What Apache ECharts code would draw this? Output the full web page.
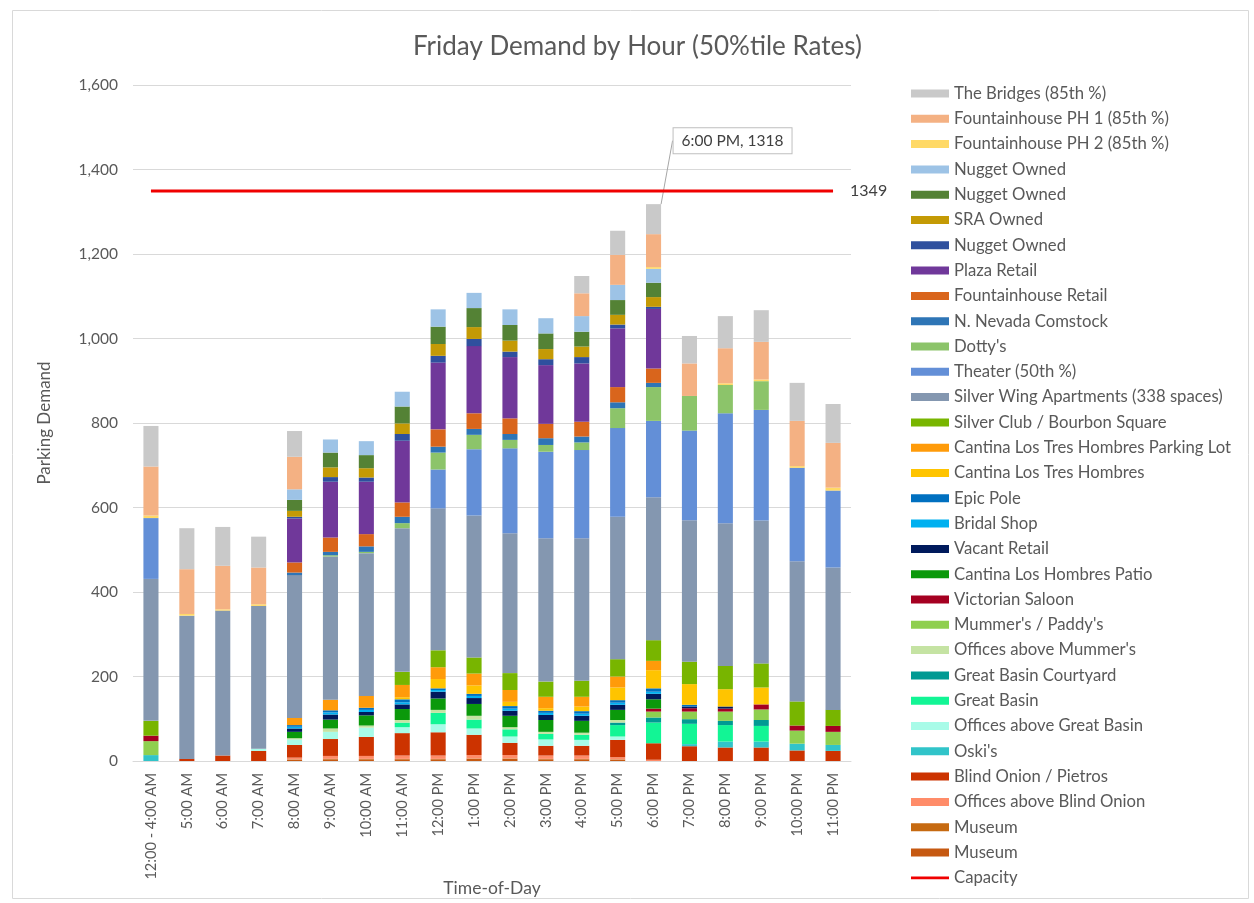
<!DOCTYPE html>
<html>
<head>
<meta charset="utf-8">
<title>Friday Demand by Hour</title>
<script src="https://cdn.jsdelivr.net/npm/echarts@6/dist/echarts.min.js"></script>
<style>
  html, body { margin: 0; padding: 0; background: #fff; }
  #chart { width: 1254px; height: 903px; }
</style>
</head>
<body>
<div id="chart"></div>
<script>
// time-of-day categories
const hours = ['12:00 - 4:00 AM', '5:00 AM', '6:00 AM', '7:00 AM', '8:00 AM', '9:00 AM', '10:00 AM',
  '11:00 AM', '12:00 PM', '1:00 PM', '2:00 PM', '3:00 PM', '4:00 PM', '5:00 PM', '6:00 PM',
  '7:00 PM', '8:00 PM', '9:00 PM', '10:00 PM', '11:00 PM']

// stack order, bottom to top
const museumA       = [0, 0, 0, 0, 3, 4, 4, 4, 4, 5, 5, 4, 4, 3, 0, 0, 0, 0, 0, 0]
const museumB       = [0, 0, 0, 0, 1, 1, 1, 1, 1, 1, 1, 1, 1, 1, 0, 0, 0, 0, 0, 0]
const offBlindOnion = [0, 0, 0, 0, 4, 7, 7, 8, 8, 8, 8, 8, 8, 5, 3, 0, 0, 0, 0, 0]
const blindOnion    = [0, 5, 13, 24, 30, 40, 45, 53, 55, 48, 29, 23, 23, 41, 39, 35, 32, 32, 25, 24]
const oskis         = [14, 0, 0, 0, 0, 0, 0, 0, 0, 0, 0, 0, 0, 0, 0, 5, 14, 14, 16, 14]
const offGreatBasin = [0, 0, 0, 5, 13, 17, 22, 14, 19, 15, 15, 15, 14, 8, 0, 0, 0, 0, 0, 0]
const greatBasin    = [0, 0, 0, 0, 0, 0, 0, 11, 27, 21, 17, 13, 12, 27, 49, 48, 39, 37, 0, 0]
const gbCourtyard   = [0, 0, 0, 0, 0, 0, 0, 0, 0, 0, 0, 0, 0, 6, 12, 11, 10, 14, 0, 0]
const offMummers    = [0, 0, 0, 0, 3, 8, 5, 6, 7, 9, 5, 5, 5, 6, 0, 0, 0, 0, 0, 0]
const mummers       = [33, 0, 0, 0, 0, 0, 0, 0, 0, 0, 0, 0, 0, 0, 14, 18, 22, 25, 31, 31]
const victorian     = [13, 0, 0, 0, 0, 0, 0, 0, 0, 0, 0, 0, 0, 0, 7, 8, 7, 12, 12, 14]
const patio         = [0, 0, 0, 0, 15, 21, 24, 26, 27, 28, 27, 28, 28, 24, 22, 0, 0, 0, 0, 0]
const vacant        = [0, 0, 0, 0, 8, 12, 8, 11, 16, 14, 12, 12, 12, 12, 13, 4, 5, 0, 0, 0]
const bridal        = [0, 0, 0, 0, 4, 5, 5, 5, 4, 5, 5, 5, 5, 5, 5, 0, 0, 0, 0, 0]
const epicPole      = [0, 0, 0, 0, 4, 5, 5, 7, 4, 5, 6, 5, 6, 6, 8, 4, 0, 0, 0, 0]
const cantinaLTH    = [0, 0, 0, 0, 0, 0, 0, 5, 22, 20, 10, 6, 11, 30, 43, 49, 41, 40, 0, 0]
const parkingLot    = [0, 0, 0, 0, 17, 25, 28, 29, 28, 28, 28, 27, 23, 26, 22, 0, 0, 0, 0, 0]
const silverClub    = [35, 0, 0, 0, 0, 0, 0, 31, 40, 38, 40, 36, 38, 41, 49, 53, 55, 57, 57, 38]
const silverWing    = [336, 339, 343, 338, 338, 339, 338, 340, 336, 336, 331, 339, 337, 337, 338, 335, 338, 338, 332, 337]
const theater       = [144, 0, 0, 0, 0, 0, 0, 0, 92, 157, 201, 205, 209, 210, 181, 212, 260, 262, 221, 182]
const dottys        = [0, 0, 0, 0, 0, 3, 3, 12, 40, 34, 20, 16, 18, 47, 80, 82, 67, 68, 0, 0]
const nNevada       = [0, 0, 0, 0, 6, 8, 13, 15, 14, 14, 14, 16, 14, 14, 10, 0, 0, 0, 0, 0]
const fhRetail      = [0, 0, 0, 0, 24, 34, 29, 34, 41, 37, 37, 34, 35, 36, 34, 0, 0, 0, 0, 0]
const plazaRetail   = [0, 0, 0, 0, 104, 132, 124, 146, 158, 159, 145, 139, 138, 139, 141, 0, 0, 0, 0, 0]
const nuggetBlue    = [0, 0, 0, 0, 4, 11, 10, 16, 16, 17, 13, 14, 15, 9, 5, 0, 0, 0, 0, 0]
const sraOwned      = [0, 0, 0, 0, 14, 23, 22, 25, 28, 28, 26, 24, 25, 23, 23, 0, 0, 0, 0, 0]
const nuggetGreen   = [0, 0, 0, 0, 26, 35, 31, 40, 41, 45, 37, 37, 35, 35, 34, 0, 0, 0, 0, 0]
const nuggetLight   = [0, 0, 0, 0, 25, 31, 33, 35, 41, 36, 37, 36, 37, 36, 33, 0, 0, 0, 0, 0]
const fhPH2         = [6, 4, 3, 4, 0, 0, 0, 0, 0, 0, 0, 0, 0, 0, 4, 0, 4, 4, 4, 7]
const fhPH1         = [116, 106, 103, 87, 77, 0, 0, 0, 0, 0, 0, 0, 54, 71, 78, 77, 83, 89, 107, 106]
const bridges       = [96, 97, 92, 73, 61, 0, 0, 0, 0, 0, 0, 0, 41, 57, 71, 65, 76, 75, 90, 92]

const capacity = 1349
const peakIndex = 14   // 6:00 PM callout

// [legend name, data, colour]; "#n" suffix only keeps duplicate names apart
const layers = [
  ['Museum #1', museumA, '#c65911'],
  ['Museum #2', museumB, '#c66a11'],
  ['Offices above Blind Onion', offBlindOnion, '#ff8c69'],
  ['Blind Onion / Pietros', blindOnion, '#cc3300'],
  ["Oski's", oskis, '#31c4c9'],
  ['Offices above Great Basin', offGreatBasin, '#a8fbe8'],
  ['Great Basin', greatBasin, '#12f595'],
  ['Great Basin Courtyard', gbCourtyard, '#009a93'],
  ["Offices above Mummer's", offMummers, '#c5e3a3'],
  ["Mummer's / Paddy's", mummers, '#8fcf4f'],
  ['Victorian Saloon', victorian, '#a50021'],
  ['Cantina Los Hombres Patio', patio, '#0b990b'],
  ['Vacant Retail', vacant, '#001a5c'],
  ['Bridal Shop', bridal, '#00b0f0'],
  ['Epic Pole', epicPole, '#0070c0'],
  ['Cantina Los Tres Hombres', cantinaLTH, '#ffc400'],
  ['Cantina Los Tres Hombres Parking Lot', parkingLot, '#ff9b0a'],
  ['Silver Club / Bourbon Square', silverClub, '#78b500'],
  ['Silver Wing Apartments (338 spaces)', silverWing, '#8497b0'],
  ['Theater (50th %)', theater, '#638fd7'],
  ["Dotty's", dottys, '#8cc46a'],
  ['N. Nevada Comstock', nNevada, '#2e75b6'],
  ['Fountainhouse Retail', fhRetail, '#d9651c'],
  ['Plaza Retail', plazaRetail, '#70389a'],
  ['Nugget Owned #1', nuggetBlue, '#2f509e'],
  ['SRA Owned', sraOwned, '#c49a05'],
  ['Nugget Owned #2', nuggetGreen, '#548235'],
  ['Nugget Owned #3', nuggetLight, '#9dc3e6'],
  ['Fountainhouse PH 2 (85th %)', fhPH2, '#ffd966'],
  ['Fountainhouse PH 1 (85th %)', fhPH1, '#f4b183'],
  ['The Bridges (85th %)', bridges, '#c9c9c9']
]

const textColor = '#595959'
const fontFamily = 'Lato, "Open Sans", sans-serif'

const totals = hours.map((h, i) => layers.reduce((s, l) => s + l[1][i], 0))

const series = layers.map((l, k) => {
  const isTop = k === layers.length - 1
  return {
    name: l[0],
    type: 'bar',
    stack: 'demand',
    barWidth: '42%',
    itemStyle: { color: l[2] },
    data: l[1].map((v, i) => {
      if (isTop && i === peakIndex) {
        return {
          value: v,
          label: {
            show: true,
            position: 'top',
            formatter: hours[i] + ', ' + totals[i],
            color: '#404040',
            fontSize: 15.5,
            fontFamily: fontFamily,
            backgroundColor: '#fff',
            borderColor: '#bfbfbf',
            borderWidth: 1,
            padding: [5, 8, 4, 8]
          }
        }
      }
      return v
    }),
    labelLine: isTop ? { show: true, lineStyle: { color: '#a6a6a6', width: 1 } } : undefined,
    labelLayout: isTop ? function (p) {
      return p.dataIndex === peakIndex ? { dx: 79, dy: -46 } : {}
    } : undefined
  }
})

series.push({
  name: 'Capacity',
  type: 'line',
  data: hours.map(() => capacity),
  symbol: 'none',
  lineStyle: { color: '#f00000', width: 3 },
  itemStyle: { color: '#f00000' },
  z: 5,
  endLabel: {
    show: true,
    formatter: String(capacity),
    color: '#404040',
    fontSize: 16,
    fontFamily: fontFamily,
    distance: 17
  }
})

const legendData = layers.slice().reverse().map(l => ({ name: l[0], icon: 'rect' }))
// thin line swatch for the capacity entry
legendData.push({ name: 'Capacity', icon: 'path://M0,0M0,2.6H38V5.4H0ZM38,8' })

const chart = echarts.init(document.getElementById('chart'))
chart.setOption({
  animation: false,
  textStyle: { fontFamily: fontFamily },
  title: {
    text: 'Friday Demand by Hour (50%tile Rates)',
    left: 408,
    top: 29,
    textStyle: { color: textColor, fontSize: 26, fontWeight: 'normal', fontFamily: fontFamily }
  },
  graphic: [{
    type: 'rect',
    shape: { x: 12.5, y: 10.5, width: 1236, height: 888 },
    style: { fill: 'none', stroke: '#d9d9d9', lineWidth: 1 },
    silent: true
  }],
  legend: {
    orient: 'vertical',
    left: 911,
    top: 85,
    height: 815,
    padding: 0,
    itemWidth: 38,
    itemHeight: 8,
    itemGap: 8.3,
    data: legendData,
    formatter: name => name.replace(/ #\d$/, ''),
    textStyle: { color: textColor, fontSize: 16.7, lineHeight: 16, fontFamily: fontFamily }
  },
  grid: { left: 133, right: 403, top: 85, bottom: 142, outerBoundsMode: 'none' },
  xAxis: {
    type: 'category',
    data: hours,
    name: 'Time-of-Day',
    nameLocation: 'middle',
    nameGap: 118,
    nameMoveOverlap: false,
    nameTextStyle: { color: textColor, fontSize: 17.5 },
    axisLine: { lineStyle: { color: '#d9d9d9' } },
    axisTick: { show: false },
    axisLabel: { rotate: 90, color: textColor, fontSize: 14.6, margin: 12, interval: 0 }
  },
  yAxis: {
    type: 'value',
    min: 0,
    max: 1600,
    interval: 200,
    name: 'Parking Demand',
    nameLocation: 'middle',
    nameGap: 80,
    nameMoveOverlap: false,
    nameTextStyle: { color: textColor, fontSize: 17 },
    axisLine: { show: false },
    axisTick: { show: false },
    splitLine: { lineStyle: { color: '#d9d9d9' } },
    axisLabel: {
      color: textColor,
      fontSize: 15.5,
      margin: 15,
      formatter: v => v.toLocaleString('en-US')
    }
  },
  series: series
})
</script>
</body>
</html>
